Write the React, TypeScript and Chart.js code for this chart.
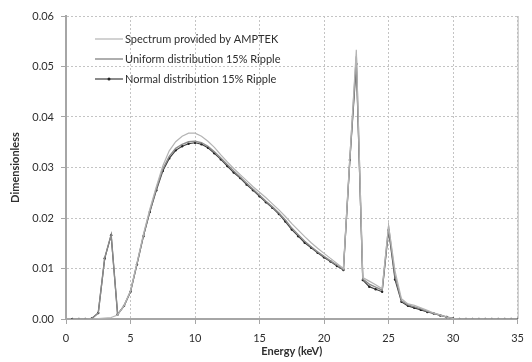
import React, { useEffect, useRef } from "react";
import { Chart, registerables } from "chart.js";

Chart.register(...registerables);

const energy = [
  0.5, 1.0, 1.5, 2.0, 2.5, 3.0, 3.5, 4.0, 4.5, 5.0,
  5.5, 6.0, 6.5, 7.0, 7.5, 8.0, 8.5, 9.0, 9.5, 10.0,
  10.5, 11.0, 11.5, 12.0, 12.5, 13.0, 13.5, 14.0, 14.5, 15.0,
  15.5, 16.0, 16.5, 17.0, 17.5, 18.0, 18.5, 19.0, 19.5, 20.0,
  20.5, 21.0, 21.5, 22.0, 22.5, 23.0, 23.5, 24.0, 24.5, 25.0,
  25.5, 26.0, 26.5, 27.0, 27.5, 28.0, 28.5, 29.0, 29.5, 30.0,
  30.5, 31.0, 31.5, 32.0, 32.5, 33.0, 33.5, 34.0, 34.5, 35.0,
];

const amptek = [
  0, 0, 0, 0, 0.0001, 0.0002, 0.0003, 0.0008, 0.0027, 0.0056,
  0.0111, 0.0168, 0.0218, 0.0262, 0.0303, 0.0333, 0.0351, 0.0362, 0.0368, 0.0368,
  0.0362, 0.0352, 0.0340, 0.0325, 0.0311, 0.0298, 0.0286, 0.0274, 0.0262, 0.0251,
  0.0240, 0.0228, 0.0216, 0.0203, 0.0189, 0.0176, 0.0163, 0.0151, 0.0140, 0.0130,
  0.0120, 0.0110, 0.0100, 0.0320, 0.0533, 0.0082, 0.0075, 0.0068, 0.0060, 0.0185,
  0.0095, 0.0040, 0.0030, 0.0027, 0.0022, 0.0017, 0.0012, 0.0008, 0.0004, 0.0001,
  0, 0, 0, 0, 0, 0, 0, 0, 0, 0,
];

const uniform = [
  0, 0, 0, 0.0001, 0.0012, 0.0121, 0.0167, 0.0009, 0.0026, 0.0055,
  0.0109, 0.0165, 0.0214, 0.0258, 0.0297, 0.0322, 0.0338, 0.0346, 0.0351, 0.0352,
  0.0349, 0.0342, 0.0331, 0.0319, 0.0306, 0.0293, 0.0281, 0.0269, 0.0257, 0.0245,
  0.0233, 0.0222, 0.0210, 0.0196, 0.0180, 0.0167, 0.0154, 0.0143, 0.0133, 0.0124,
  0.0115, 0.0107, 0.0098, 0.0318, 0.0520, 0.0079, 0.0069, 0.0063, 0.0057, 0.0182,
  0.0085, 0.0036, 0.0028, 0.0024, 0.0020, 0.0015, 0.0011, 0.0008, 0.0004, 0.0001,
  0, 0, 0, 0, 0, 0, 0, 0, 0, 0,
];

const normal = [
  0, 0, 0, 0.0001, 0.0012, 0.0120, 0.0166, 0.0009, 0.0026, 0.0054,
  0.0108, 0.0164, 0.0212, 0.0255, 0.0293, 0.0318, 0.0334, 0.0342, 0.0347, 0.0349,
  0.0346, 0.0339, 0.0328, 0.0316, 0.0303, 0.0290, 0.0279, 0.0266, 0.0255, 0.0243,
  0.0231, 0.0220, 0.0208, 0.0193, 0.0177, 0.0164, 0.0151, 0.0141, 0.0131, 0.0122,
  0.0114, 0.0105, 0.0097, 0.0315, 0.0505, 0.0077, 0.0064, 0.0059, 0.0054, 0.0176,
  0.0078, 0.0034, 0.0026, 0.0022, 0.0018, 0.0014, 0.0011, 0.0007, 0.0004, 0.0001,
  0, 0, 0, 0, 0, 0, 0, 0, 0, 0,
];

const seriesLabels = [
  "Spectrum provided by AMPTEK",
  "Uniform distribution 15% Ripple",
  "Normal distribution 15% Ripple",
];

const FONT = "Lato, 'Open Sans', sans-serif";

const toPoints = (ys: number[]) => energy.map((x, i) => ({ x, y: ys[i] }));

const legendPlugin = {
  id: "insideLegend",
  afterDatasetsDraw(chart: any) {
    const ctx = chart.ctx;
    const x0 = 95;
    const x1 = 123;
    const rows = [39, 59, 79];
    ctx.save();
    chart.data.datasets.forEach((ds: any, i: number) => {
      const y = rows[i];
      ctx.strokeStyle = ds.borderColor;
      ctx.lineWidth = ds.borderWidth;
      ctx.setLineDash([]);
      ctx.beginPath();
      ctx.moveTo(x0, y);
      ctx.lineTo(x1, y);
      ctx.stroke();
      if (ds.pointRadius > 0) {
        ctx.fillStyle = ds.pointBackgroundColor;
        ctx.beginPath();
        ctx.arc((x0 + x1) / 2, y, ds.pointRadius + 0.3, 0, Math.PI * 2);
        ctx.fill();
      }
      ctx.fillStyle = "#2e2e2e";
      ctx.font = `11px ${FONT}`;
      ctx.textBaseline = "middle";
      ctx.textAlign = "left";
      ctx.fillText(ds.label, x1 + 2, y);
    });
    ctx.restore();
  },
};

const rightBorderPlugin = {
  id: "rightBorder",
  beforeDatasetsDraw(chart: any) {
    const { ctx, chartArea } = chart;
    ctx.save();
    ctx.strokeStyle = "#b4b4b4";
    ctx.lineWidth = 1;
    ctx.beginPath();
    ctx.moveTo(chartArea.right + 0.5, chartArea.top);
    ctx.lineTo(chartArea.right + 0.5, chartArea.bottom);
    ctx.stroke();
    ctx.restore();
  },
};

export default function App() {
  const ref = useRef<HTMLCanvasElement | null>(null);

  useEffect(() => {
    document.body.style.margin = "0";
    if (!ref.current) return;
    const chart = new Chart(ref.current, {
      type: "line",
      data: {
        datasets: [
          {
            label: seriesLabels[0],
            data: toPoints(amptek),
            borderColor: "#b4b4b4",
            borderWidth: 1.2,
            pointRadius: 0,
            tension: 0,
          },
          {
            label: seriesLabels[1],
            data: toPoints(uniform),
            borderColor: "#8c8c8c",
            borderWidth: 1.4,
            pointRadius: 0,
            tension: 0,
          },
          {
            label: seriesLabels[2],
            data: toPoints(normal),
            borderColor: "#3c3c3c",
            borderWidth: 1.2,
            pointRadius: 1.2,
            pointBackgroundColor: "#222222",
            pointBorderWidth: 0,
            tension: 0,
          },
        ] as any,
      },
      options: {
        animation: false,
        responsive: false,
        layout: { padding: { left: 0, right: 6, top: 16, bottom: 0 } },
        plugins: {
          legend: { display: false },
          tooltip: { enabled: false },
        },
        scales: {
          x: {
            type: "linear",
            min: 0,
            max: 35,
            ticks: {
              stepSize: 5,
              color: "#2e2e2e",
              font: { family: FONT, size: 11 },
              padding: 8,
            },
            grid: {
              color: "#c4c4c4",
              lineWidth: 1,
              tickLength: 5,
              tickColor: "#a6a6a6",
            },
            border: { display: true, color: "#a6a6a6", width: 2, dash: [2, 2] },
            title: {
              display: true,
              text: "Energy (keV)",
              color: "#2e2e2e",
              font: { family: FONT, size: 11, weight: "bold" },
              padding: { top: 0, bottom: 4 },
            },
            afterFit: (scale: any) => {
              scale.height = 43;
            },
          },
          y: {
            type: "linear",
            min: 0,
            max: 0.06,
            ticks: {
              stepSize: 0.01,
              color: "#2e2e2e",
              font: { family: FONT, size: 11 },
              padding: 7,
              callback: (v: any) => Number(v).toFixed(2),
            },
            grid: {
              color: "#c4c4c4",
              lineWidth: 1,
              tickLength: 5,
              tickColor: "#a6a6a6",
            },
            border: { display: true, color: "#a6a6a6", width: 2, dash: [2, 2] },
            title: {
              display: true,
              text: "Dimensionless",
              color: "#2e2e2e",
              font: { family: FONT, size: 11, weight: "bold" },
              padding: { top: 9, bottom: 0 },
            },
            afterFit: (scale: any) => {
              scale.width = 66;
            },
          },
        },
      } as any,
      plugins: [rightBorderPlugin, legendPlugin],
    });
    return () => chart.destroy();
  }, []);

  return (
    <div style={{ position: "absolute", left: 0, top: 0, width: 532, height: 362, background: "#ffffff" }}>
      <canvas ref={ref} width={532} height={362} />
    </div>
  );
}
